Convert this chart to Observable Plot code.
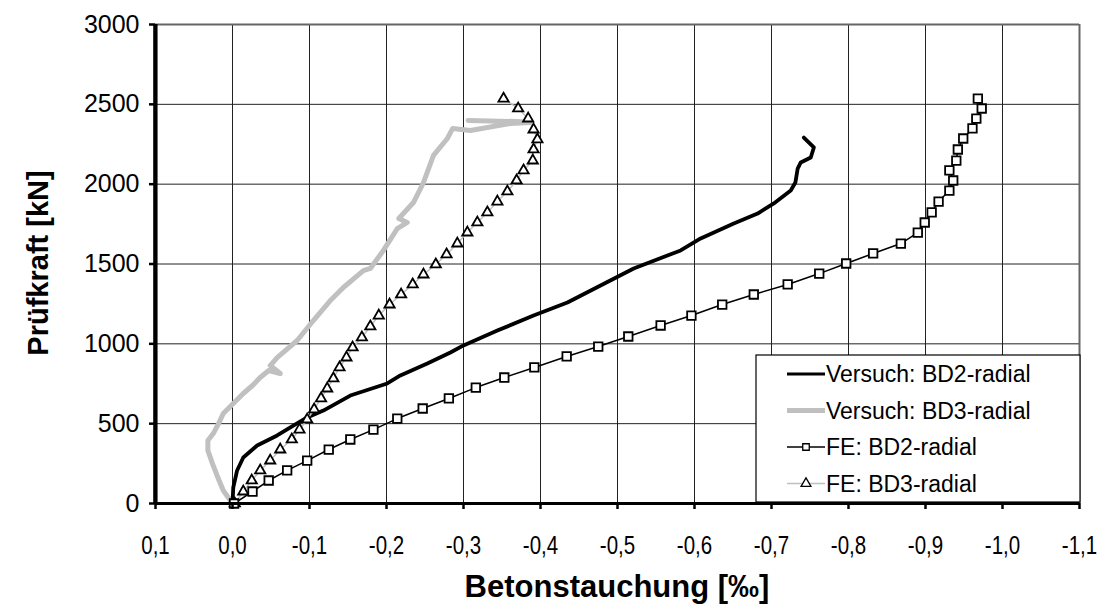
<!DOCTYPE html>
<html>
<head>
<meta charset="utf-8">
<script src="https://cdn.jsdelivr.net/npm/d3@7"></script>
<script src="https://cdn.jsdelivr.net/npm/@observablehq/plot@0.6"></script>
<style>
  body { margin: 0; background: #fff; }
  #chart { width: 1102px; height: 610px; }
  #chart svg { font-family: "Liberation Sans", Arial, sans-serif; background: #fff; }
</style>
</head>
<body>
<div id="chart"></div>
<script>
// Axis ticks (strain in per mille, load in kN)
const xTicks = [0.1, 0, -0.1, -0.2, -0.3, -0.4, -0.5, -0.6, -0.7, -0.8, -0.9, -1.0, -1.1];
const yTicks = [0, 500, 1000, 1500, 2000, 2500, 3000];

const seriesNames = ["Versuch: BD2-radial", "Versuch: BD3-radial", "FE: BD2-radial", "FE: BD3-radial"];

// Test BD2, radial strain vs. load
const bd2Test = [
  [0, 0], [-0.001, 100], [-0.006, 207], [-0.014, 288], [-0.032, 363], [-0.058, 426],
  [-0.079, 488], [-0.097, 539], [-0.118, 582], [-0.153, 676], [-0.201, 752], [-0.218, 802],
  [-0.253, 877], [-0.283, 946], [-0.300, 990], [-0.344, 1083], [-0.391, 1177], [-0.435, 1259],
  [-0.478, 1365], [-0.521, 1472], [-0.582, 1585], [-0.608, 1660], [-0.651, 1754], [-0.682, 1816],
  [-0.703, 1879], [-0.725, 1960], [-0.731, 2010], [-0.734, 2098], [-0.738, 2136], [-0.751, 2167],
  [-0.755, 2230], [-0.742, 2292]
];

// Test BD3, radial strain vs. load
const bd3Test = [
  [0, 0], [0.012, 81], [0.019, 163], [0.026, 250], [0.032, 332], [0.032, 395], [0.025, 438],
  [0.018, 501], [0.012, 564], [-0.001, 626], [-0.014, 689], [-0.026, 739], [-0.036, 789],
  [-0.047, 833], [-0.062, 814], [-0.049, 864], [-0.058, 914], [-0.084, 1021], [-0.105, 1146],
  [-0.127, 1271], [-0.144, 1353], [-0.170, 1459], [-0.179, 1472], [-0.196, 1585], [-0.214, 1722],
  [-0.227, 1760], [-0.216, 1785], [-0.235, 1885], [-0.248, 2010], [-0.261, 2180], [-0.279, 2286],
  [-0.286, 2349], [-0.309, 2336], [-0.361, 2380], [-0.387, 2386], [-0.370, 2392], [-0.306, 2399]
];

// FE model BD2
const bd2FE = [
  [-0.002, 0], [-0.026, 75], [-0.047, 144], [-0.071, 207], [-0.097, 269], [-0.125, 338],
  [-0.153, 401], [-0.183, 463], [-0.214, 532], [-0.247, 595], [-0.281, 658], [-0.316, 726],
  [-0.353, 789], [-0.392, 852], [-0.434, 921], [-0.475, 983], [-0.514, 1046], [-0.556, 1115],
  [-0.596, 1177], [-0.636, 1246], [-0.677, 1309], [-0.721, 1372], [-0.762, 1440], [-0.797, 1503],
  [-0.832, 1566], [-0.868, 1628], [-0.890, 1697], [-0.899, 1760], [-0.908, 1823], [-0.917, 1891],
  [-0.931, 1960], [-0.936, 2023], [-0.931, 2086], [-0.940, 2148], [-0.942, 2217], [-0.949, 2286],
  [-0.961, 2349], [-0.966, 2411], [-0.973, 2474], [-0.968, 2536]
];

// FE model BD3
const bd3FE = [
  [-0.003, 0], [-0.014, 75], [-0.025, 144], [-0.036, 207], [-0.049, 269], [-0.062, 338],
  [-0.077, 401], [-0.087, 463], [-0.097, 526], [-0.106, 589], [-0.115, 658], [-0.123, 720],
  [-0.131, 783], [-0.139, 852], [-0.148, 914], [-0.156, 977], [-0.168, 1040], [-0.179, 1109],
  [-0.190, 1177], [-0.204, 1246], [-0.219, 1309], [-0.234, 1372], [-0.248, 1434], [-0.264, 1497],
  [-0.278, 1560], [-0.292, 1628], [-0.305, 1697], [-0.318, 1760], [-0.331, 1823], [-0.344, 1891],
  [-0.357, 1954], [-0.369, 2023], [-0.378, 2086], [-0.390, 2148], [-0.391, 2217], [-0.396, 2280],
  [-0.391, 2342], [-0.384, 2411], [-0.371, 2474], [-0.352, 2536]
];

const commaFormat = v => (Math.abs(v) < 1e-9 ? 0 : v).toFixed(1).replace(".", ",");
const plainFormat = v => String(v);
const px = d => d[0];
const py = d => d[1];

const GREY = "#c0c0c0";
const FONT = "'Liberation Sans', Arial, sans-serif";

const chart = Plot.plot({
  width: 1102,
  height: 610,
  marginLeft: 155,
  marginRight: 23,
  marginTop: 24,
  marginBottom: 107,
  x: { domain: [0.1, -1.1] },
  y: { domain: [0, 3000] },
  marks: [
    Plot.gridX(xTicks, { stroke: "#222", strokeOpacity: 1, strokeWidth: 1 }),
    Plot.gridY(yTicks, { stroke: "#222", strokeOpacity: 1, strokeWidth: 1 }),
    Plot.ruleY([3000], { stroke: "#666", strokeWidth: 2 }),
    Plot.ruleX([-1.1], { stroke: "#666", strokeWidth: 2 }),

    Plot.line(bd3Test, { x: px, y: py, stroke: GREY, strokeWidth: 5 }),
    Plot.line(bd2Test, { x: px, y: py, stroke: "black", strokeWidth: 3.8 }),

    Plot.line(bd3FE, { x: px, y: py, stroke: GREY, strokeWidth: 1.5 }),
    Plot.dot(bd3FE, { x: px, y: py, symbol: "triangle", r: 3.8, fill: "white", stroke: "black", strokeWidth: 1.8 }),
    Plot.line(bd2FE, { x: px, y: py, stroke: "black", strokeWidth: 1.5 }),
    Plot.dot(bd2FE, { x: px, y: py, symbol: "square", r: 4.8, fill: "white", stroke: "black", strokeWidth: 1.8 }),

    // Axis lines
    Plot.ruleY([0], { x1: 0.1, x2: -1.1, stroke: "black", strokeWidth: 3 }),
    Plot.rectY([0], { x1: 0.1, x2: 0.099, y1: 0, y2: 3000, fill: "black", insetLeft: -1.8, insetRight: -1.8 }),

    Plot.axisX(xTicks, {
      tickSize: 6, tickPadding: 27, tickFormat: commaFormat, label: null,
      strokeWidth: 2.5, fontSize: 25, fontFamily: FONT
    }),
    Plot.axisY(yTicks, {
      tickSize: 6, tickPadding: 10, tickFormat: plainFormat, label: null,
      strokeWidth: 2.5, fontSize: 25, fontFamily: FONT
    })
  ]
});

document.getElementById("chart").appendChild(chart);

const svg = d3.select(chart);

// Narrow the x tick labels horizontally
svg.selectAll("g[aria-label='x-axis tick label'] text").each(function () {
  const t = d3.select(this);
  const tr = t.attr("transform") || "";
  t.attr("transform", tr + " scale(0.82,1)");
});

// Axis titles
svg.append("text")
  .attr("x", 617).attr("y", 597)
  .attr("text-anchor", "middle")
  .style("font-family", FONT)
  .style("font-weight", "bold").style("font-size", "31px")
  .text("Betonstauchung [‰]");

svg.append("text")
  .attr("transform", "translate(38,263) rotate(-90)")
  .attr("text-anchor", "middle").attr("dy", "0.35em")
  .style("font-family", FONT)
  .style("font-weight", "bold").style("font-size", "29px")
  .text("Prüfkraft [kN]");

// Legend box
const legend = svg.append("g").attr("text-anchor", "start");
legend.append("rect")
  .attr("x", 756).attr("y", 355).attr("width", 324).attr("height", 147)
  .attr("fill", "white").attr("stroke", "black").attr("stroke-width", 1.2);

const legendStyles = [
  { stroke: "black", width: 3, symbol: null },
  { stroke: GREY, width: 5, symbol: null },
  { stroke: "black", width: 1.3, symbol: d3.symbolSquare },
  { stroke: GREY, width: 1.3, symbol: d3.symbolTriangle }
];

seriesNames.forEach((name, i) => {
  const cy = 374 + i * 36.5;
  const st = legendStyles[i];
  legend.append("line")
    .attr("x1", 787).attr("x2", 825).attr("y1", cy).attr("y2", cy)
    .attr("stroke", st.stroke).attr("stroke-width", st.width);
  if (st.symbol) {
    legend.append("path")
      .attr("transform", `translate(806,${cy})`)
      .attr("d", d3.symbol(st.symbol, 42)())
      .attr("fill", "white").attr("stroke", "black").attr("stroke-width", 1.3);
  }
  legend.append("text")
    .attr("x", 826).attr("y", cy).attr("dy", "0.36em")
    .attr("text-anchor", "start")
    .style("font-family", FONT)
    .style("font-size", "23px")
    .text(name);
});
</script>
</body>
</html>
